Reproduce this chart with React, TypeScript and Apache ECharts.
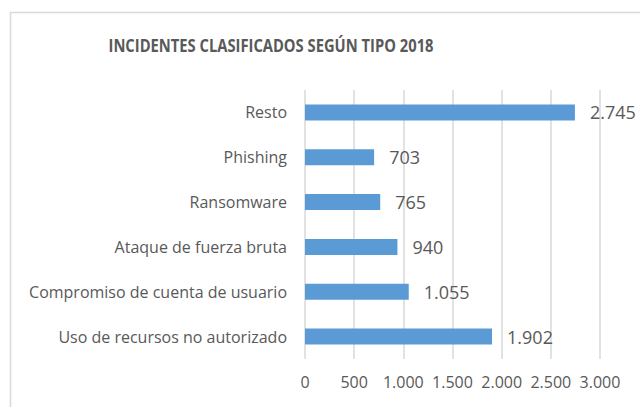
import React, { useEffect, useRef } from "react";
import * as echarts from "echarts";

const categories = [
  "Resto",
  "Phishing",
  "Ransomware",
  "Ataque de fuerza bruta",
  "Compromiso de cuenta de usuario",
  "Uso de recursos no autorizado",
];
const values = [2745, 703, 765, 940, 1055, 1902];
const titleText = "INCIDENTES CLASIFICADOS SEGÚN TIPO 2018";

const fmt = (v: number) => {
  const s = String(Math.round(v));
  return s.replace(/\B(?=(\d{3})+(?!\d))/g, ".");
};

export default function App() {
  const ref = useRef<HTMLDivElement>(null);
  useEffect(() => {
    if (!ref.current) return;
    const chart = echarts.init(ref.current, undefined, { renderer: "svg" });
    const font = "'Open Sans', 'Noto Sans', sans-serif";
    chart.setOption({
      animation: false,
      backgroundColor: "#ffffff",
      graphic: [
        {
          type: "rect",
          shape: { x: 10.5, y: 12.5, width: 700, height: 500 },
          style: { fill: "none", stroke: "#d9d9d9", lineWidth: 1.5 },
          silent: true,
          z: -1,
        },
        {
          type: "text",
          x: 271,
          y: 45,
          scaleX: 0.82,
          style: {
            text: titleText,
            fontFamily: font,
            fontWeight: "bold",
            fontSize: 18,
            fill: "#595959",
            textAlign: "center",
            textVerticalAlign: "middle",
          },
          silent: true,
        },
      ],
      grid: { left: 305, right: 40, top: 90, bottom: 48, containLabel: false },
      xAxis: {
        type: "value",
        min: 0,
        max: 3000,
        interval: 500,
        axisLine: { show: false },
        axisTick: { show: false },
        splitLine: { show: true, lineStyle: { color: "#d9d9d9", width: 1.5 } },
        axisLabel: {
          color: "#595959",
          fontFamily: font,
          fontSize: 16,
          margin: 15,
          formatter: (v: number) => fmt(v),
        },
      },
      yAxis: {
        type: "category",
        data: categories,
        inverse: true,
        axisLine: { show: false },
        axisTick: { show: false },
        axisLabel: {
          color: "#595959",
          fontFamily: font,
          fontSize: 16,
          margin: 18,
        },
      },
      series: [
        {
          type: "bar",
          data: values,
          barWidth: 16,
          itemStyle: { color: "#5b9bd5" },
          label: {
            show: true,
            position: "right",
            distance: 15,
            color: "#595959",
            fontFamily: font,
            fontSize: 18,
            formatter: (p: any) => fmt(p.value),
          },
        },
      ],
    });
    return () => chart.dispose();
  }, []);
  return (
    <div
      ref={ref}
      style={{ position: "fixed", left: 0, top: 0, width: 640, height: 407 }}
    />
  );
}
